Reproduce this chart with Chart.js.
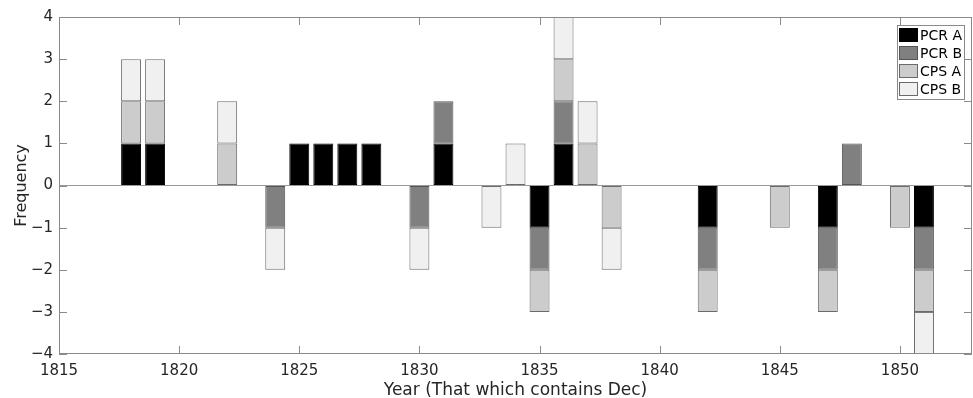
<!DOCTYPE html>
<html>
<head>
<meta charset="utf-8">
<script src="https://cdn.jsdelivr.net/npm/chart.js@4/dist/chart.umd.min.js"></script>
<style>
  html, body { margin: 0; padding: 0; background: #fff; }
  #wrap { width: 973px; height: 398px; position: relative; }
</style>
</head>
<body>
<div id="wrap"><canvas id="freqChart"></canvas></div>
<script>
// years that have at least one event
const years = [1818, 1819, 1822, 1824, 1825, 1826, 1827, 1828, 1830, 1831, 1833,
               1834, 1835, 1836, 1837, 1838, 1842, 1845, 1847, 1848, 1850, 1851];

const pcrA = [1, 1, 0, 0, 1, 1, 1, 1, 0, 1, 0, 0, -1, 1, 0, 0, -1, 0, -1, 0, 0, -1];
const pcrB = [0, 0, 0, -1, 0, 0, 0, 0, -1, 1, 0, 0, -1, 1, 0, 0, -1, 0, -1, 1, 0, -1];
const cpsA = [1, 1, 1, 0, 0, 0, 0, 0, 0, 0, 0, 0, -1, 1, 1, -1, -1, -1, -1, 0, -1, -1];
const cpsB = [1, 1, 1, -1, 0, 0, 0, 0, -1, 0, -1, 1, 0, 1, 1, -1, 0, 0, 0, 0, 0, -1];

const seriesNames = ["PCR A", "PCR B", "CPS A", "CPS B"];
const seriesColors = ["#000000", "#808080", "#cccccc", "#f0f0f0"];
const seriesBorders = ["#000000", "#555555", "#6a6a6a", "#6a6a6a"];

const yTicks = [-4, -3, -2, -1, 0, 1, 2, 3, 4];
const xTicks = [1815, 1820, 1825, 1830, 1835, 1840, 1845, 1850];

const textColor = "#262626";
const fontFamily = "'DejaVu Sans', sans-serif";

function toPoints(vals) {
    return years.map((yr, i) => ({ x: yr, y: vals[i] === 0 ? null : vals[i] }));
}

const datasets = [pcrA, pcrB, cpsA, cpsB].map((vals, i) => ({
    label: seriesNames[i],
    data: toPoints(vals),
    backgroundColor: seriesColors[i],
    borderColor: seriesBorders[i],
    borderWidth: 1,
    borderSkipped: false,
    categoryPercentage: 1.0,
    barPercentage: 0.83
}));

// box around the axes, inward ticks and the legend in the corner
const framePlugin = {
    id: "frame",
    afterDatasetsDraw(chart) {
        const { ctx, chartArea: a, scales } = chart;
        const tl = 8;
        ctx.save();
        ctx.strokeStyle = "#8a8a8a";
        ctx.lineWidth = 1;
        ctx.strokeRect(a.left + 0.5, a.top + 0.5, a.right - a.left - 1, a.bottom - a.top - 1);
        ctx.beginPath();
        xTicks.forEach(v => {
            const px = Math.round(scales.x.getPixelForValue(v)) + 0.5;
            ctx.moveTo(px, a.bottom); ctx.lineTo(px, a.bottom - tl);
            ctx.moveTo(px, a.top); ctx.lineTo(px, a.top + tl);
        });
        yTicks.forEach(v => {
            const py = Math.round(scales.y.getPixelForValue(v)) + 0.5;
            ctx.moveTo(a.left, py); ctx.lineTo(a.left + tl, py);
            ctx.moveTo(a.right, py); ctx.lineTo(a.right - tl, py);
        });
        ctx.stroke();

        // legend
        const lx = 897, ly = 25, lw = 67, lh = 74;
        ctx.fillStyle = "#fff";
        ctx.fillRect(lx, ly, lw, lh);
        ctx.strokeStyle = "#8a8a8a";
        ctx.strokeRect(lx + 0.5, ly + 0.5, lw, lh);
        ctx.font = "14px " + fontFamily;
        ctx.textBaseline = "middle";
        ctx.textAlign = "left";
        seriesNames.forEach((name, i) => {
            const cy = ly + 10 + i * 18;
            ctx.fillStyle = seriesColors[i];
            ctx.fillRect(lx + 2, cy - 7, 19, 14);
            ctx.strokeStyle = seriesBorders[i];
            ctx.strokeRect(lx + 2.5, cy - 6.5, 18, 13);
            ctx.fillStyle = "#000";
            ctx.fillText(name, lx + 23, cy + 1);
        });
        ctx.restore();
    }
};

new Chart(document.getElementById("freqChart"), {
    type: "bar",
    data: { datasets: datasets },
    options: {
        responsive: true,
        maintainAspectRatio: false,
        animation: false,
        layout: { padding: { left: 12, right: 1, top: 17, bottom: 0 } },
        plugins: {
            legend: { display: false },
            tooltip: { enabled: false }
        },
        scales: {
            x: {
                type: "linear",
                min: 1815,
                max: 1853,
                offset: false,
                stacked: true,
                grid: { display: false },
                border: { display: false },
                afterFit: s => { s.height = 44; },
                afterBuildTicks: s => { s.ticks = xTicks.map(v => ({ value: v })); },
                ticks: {
                    color: textColor,
                    font: { family: fontFamily, size: 15 },
                    padding: 0,
                    maxRotation: 0,
                    autoSkip: false,
                    callback: v => String(v)
                },
                title: {
                    display: true,
                    text: "Year (That which contains Dec)",
                    color: textColor,
                    font: { family: fontFamily, size: 17 },
                    padding: { top: 0, bottom: -3 }
                }
            },
            y: {
                min: -4,
                max: 4,
                stacked: true,
                afterFit: s => { s.width = 47; },
                afterBuildTicks: s => { s.ticks = yTicks.map(v => ({ value: v })); },
                grid: {
                    drawTicks: false,
                    color: c => (c.tick && c.tick.value === 0 ? "#9a9a9a" : "rgba(0,0,0,0)")
                },
                border: { display: false },
                ticks: {
                    color: textColor,
                    font: { family: fontFamily, size: 15 },
                    padding: 6,
                    callback: v => String(v).replace("-", "\u2212")
                },
                title: {
                    display: true,
                    text: "Frequency",
                    color: textColor,
                    font: { family: fontFamily, size: 16 },
                    padding: { top: 0, bottom: 2 }
                }
            }
        }
    },
    plugins: [framePlugin]
});
</script>
</body>
</html>
